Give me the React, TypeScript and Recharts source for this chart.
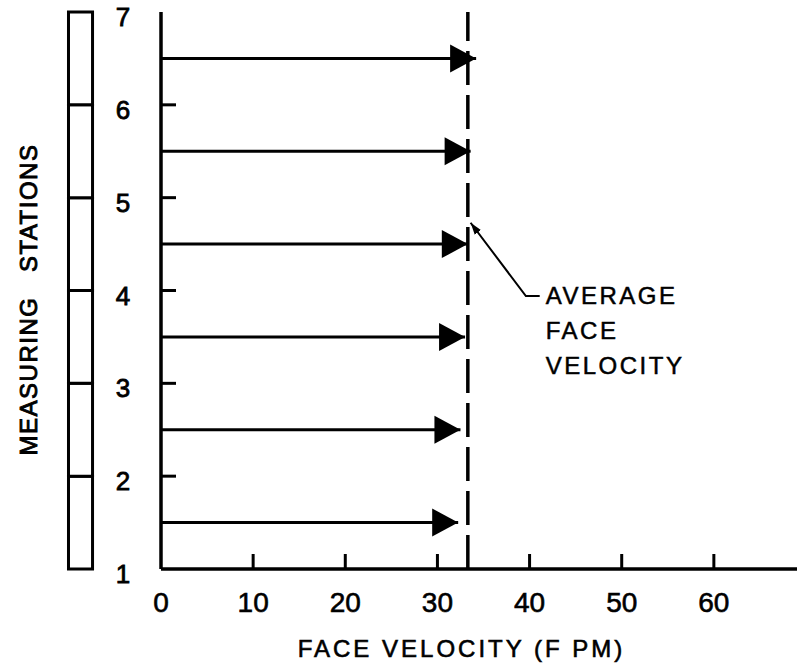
import React from 'react';
import {
  ComposedChart,
  Line,
  XAxis,
  YAxis,
  ReferenceLine,
  ReferenceArea,
  ReferenceDot,
  Label,
} from 'recharts';

// ---- data ----
const stationLevels = [1.5, 2.5, 3.5, 4.5, 5.5, 6.5];
const faceVelocities = [32.25, 32.5, 33.0, 33.3, 33.6, 34.2];
const averageFaceVelocity = 33.3;
const xTicks = [0, 10, 20, 30, 40, 50, 60];
const xInnerTicks = [10, 20, 30, 40, 50, 60];
const yTicks = [1, 2, 3, 4, 5, 6, 7];
const yInnerTicks = [2, 3, 4, 5, 6];
const stationCells = [1, 2, 3, 4, 5, 6];
const stationBarX = [-10.04, -7.43];
const leaderPath = [
  { x: 33.6, y: 4.73 },
  { x: 39.6, y: 3.94 },
  { x: 41.1, y: 3.94 },
];
const annotationLines = ['AVERAGE', 'FACE', 'VELOCITY'];
const xTitle = 'FACE VELOCITY (F PM)';
const yTitle = 'MEASURING   STATIONS';

const FONT = "'Liberation Sans', Arial, sans-serif";
const INK = '#000';

const BottomTick = (p: any) => {
  const { x, y, payload } = p;
  return (
    <g>
      {payload.value !== 0 && (
        <line x1={x} y1={y} x2={x} y2={y - 15} stroke={INK} strokeWidth={3} />
      )}
      <text
        x={x}
        y={y + 33}
        textAnchor="middle"
        dominantBaseline="central"
        fontSize={28}
        fontFamily={FONT}
        fill={INK}
        stroke={INK}
        strokeWidth={0.6}
      >
        {payload.value}
      </text>
    </g>
  );
};

const TopTick = (p: any) => {
  const { x, y } = p;
  return <line x1={x} y1={y} x2={x} y2={y + 15} stroke={INK} strokeWidth={3} />;
};

const LeftTick = (p: any) => {
  const { x, y, payload } = p;
  const v = payload.value;
  return (
    <g>
      {v > 1 && v < 7 && (
        <line x1={x} y1={y} x2={x + 15} y2={y} stroke={INK} strokeWidth={3} />
      )}
      <text
        x={x - 38}
        y={y + 5}
        textAnchor="middle"
        dominantBaseline="central"
        fontSize={26}
        fontFamily={FONT}
        fill={INK}
        stroke={INK}
        strokeWidth={0.8}
      >
        {v}
      </text>
    </g>
  );
};

const RightTick = (p: any) => {
  const { x, y } = p;
  return <line x1={x} y1={y} x2={x - 15} y2={y} stroke={INK} strokeWidth={3} />;
};

const ArrowHead = (props: any) => {
  const { cx, cy, index } = props;
  if (index !== 1 || cx == null) return <g key={`a-${index}`} />;
  return (
    <polygon
      key={`a-${index}`}
      points={`${cx},${cy} ${cx - 26},${cy - 14} ${cx - 26},${cy + 14}`}
      fill={INK}
    />
  );
};

const AnnotationText = (props: any) => {
  const { cx, cy } = props;
  return (
    <g>
      {annotationLines.map((t, i) => (
        <text
          key={t}
          x={cx + 6}
          y={cy + 8 + i * 35}
          fontSize={24}
          letterSpacing={2.5}
          fontFamily={FONT}
          fill={INK}
          stroke={INK}
          strokeWidth={0.5}
        >
          {t}
        </text>
      ))}
    </g>
  );
};

export default function App() {
  return (
    <div
      style={{
        position: 'absolute',
        left: 0,
        top: 0,
        width: 797,
        height: 668,
        overflow: 'hidden',
        background: '#fff',
      }}
    >
      <svg width={0} height={0} style={{ position: 'absolute' }}>
        <defs>
          <marker
            id="leaderHead"
            viewBox="0 0 10 10"
            refX="10"
            refY="5"
            markerWidth="12"
            markerHeight="12"
            markerUnits="userSpaceOnUse"
            orient="auto-start-reverse"
          >
            <path d="M10,5 L0,1.8 L0,8.2 Z" fill={INK} />
          </marker>
        </defs>
      </svg>
      <ComposedChart
        width={830}
        height={668}
        margin={{ top: 12, right: 24, bottom: 0, left: 0 }}
      >
        <XAxis
          dataKey="x"
          type="number"
          domain={[0, 70]}
          ticks={xTicks}
          interval={0}
          tickSize={0}
          tickMargin={0}
          tickLine={false}
          height={99}
          axisLine={{ stroke: INK, strokeWidth: 3.5 }}
          tick={BottomTick}
        >
          <Label
            content={(lp: any) => {
              const vb = lp.viewBox;
              return (
                <text
                  x={vb.x + vb.width / 2 - 22}
                  y={vb.y + 88}
                  textAnchor="middle"
                  fontSize={24}
                  letterSpacing={3}
                  fontFamily={FONT}
                  fill={INK}
                  stroke={INK}
                  strokeWidth={0.6}
                >
                  {xTitle}
                </text>
              );
            }}
          />
        </XAxis>
        <XAxis
          xAxisId="top"
          orientation="top"
          type="number"
          domain={[0, 70]}
          ticks={xInnerTicks}
          interval={0}
          tickSize={0}
          tickMargin={0}
          tickLine={false}
          height={0}
          axisLine={{ stroke: INK, strokeWidth: 3.5 }}
          tick={TopTick}
        />
        <YAxis
          type="number"
          domain={[1, 7]}
          ticks={yTicks}
          interval={0}
          tickSize={0}
          tickMargin={0}
          tickLine={false}
          width={161}
          axisLine={{ stroke: INK, strokeWidth: 3.5 }}
          tick={LeftTick}
        >
          <Label
            content={(lp: any) => {
              const vb = lp.viewBox;
              const cx = vb.x + 28;
              const cy = vb.y + vb.height / 2 + 9;
              return (
                <text
                  x={cx}
                  y={cy}
                  transform={`rotate(-90, ${cx}, ${cy})`}
                  textAnchor="middle"
                  dominantBaseline="central"
                  fontSize={24}
                  letterSpacing={1.5}
                  fontFamily={FONT}
                  fill={INK}
                  stroke={INK}
                  strokeWidth={0.9}
                  style={{ whiteSpace: 'pre' }}
                >
                  {yTitle}
                </text>
              );
            }}
          />
        </YAxis>
        <YAxis
          yAxisId="right"
          orientation="right"
          type="number"
          domain={[1, 7]}
          ticks={yInnerTicks}
          interval={0}
          tickSize={0}
          tickMargin={0}
          tickLine={false}
          width={0}
          axisLine={{ stroke: INK, strokeWidth: 3.5 }}
          tick={RightTick}
        />

        {stationCells.map((s) => (
          <ReferenceArea
            key={`cell-${s}`}
            x1={stationBarX[0]}
            x2={stationBarX[1]}
            y1={s}
            y2={s + 1}
            ifOverflow="visible"
            fill="#fff"
            fillOpacity={1}
            stroke={INK}
            strokeWidth={3}
          />
        ))}

        <ReferenceLine
          x={averageFaceVelocity}
          stroke={INK}
          strokeWidth={3.5}
          strokeDasharray="34 10"
        />

        {stationLevels.map((s, i) => (
          <Line
            key={`arrow-${s}`}
            data={[
              { x: 0, y: s },
              { x: faceVelocities[i], y: s },
            ]}
            dataKey="y"
            stroke={INK}
            strokeWidth={3}
            dot={ArrowHead}
            activeDot={false}
            isAnimationActive={false}
          />
        ))}

        <Line
          data={leaderPath}
          dataKey="y"
          stroke={INK}
          strokeWidth={2}
          dot={false}
          activeDot={false}
          markerStart="url(#leaderHead)"
          isAnimationActive={false}
        />

        <ReferenceDot
          x={leaderPath[2].x}
          y={leaderPath[2].y}
          r={0}
          shape={AnnotationText}
        />
      </ComposedChart>
    </div>
  );
}
